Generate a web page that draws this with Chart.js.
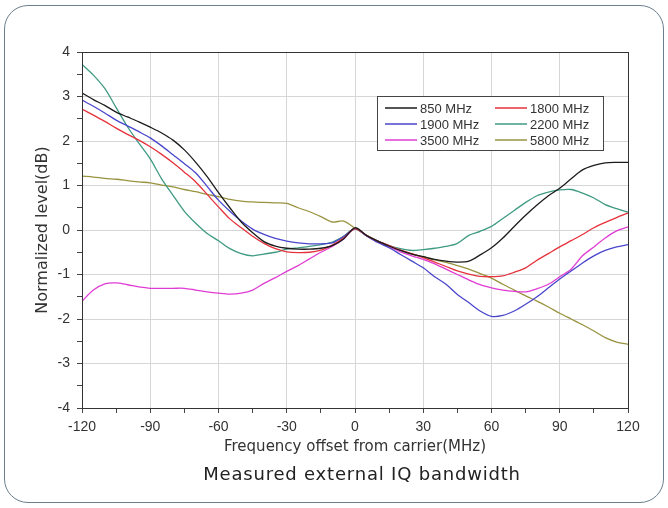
<!DOCTYPE html>
<html lang="en">
<head>
  <meta charset="UTF-8" />
  <title>Measured external IQ bandwidth</title>
  <style>
    * {
      margin: 0;
      padding: 0;
      box-sizing: border-box;
    }

    body {
      width: 668px;
      height: 508px;
      background: #fff;
      overflow: hidden;
      position: relative;
      font-family: 'DejaVu Sans', sans-serif;
    }

    .frame {
      position: absolute;
      left: 4px;
      top: 5px;
      width: 660px;
      height: 498px;
      border: 1px solid #6d7f8d;
      border-radius: 24px;
    }

    #chart {
      position: absolute;
      left: 0;
      top: 0;
    }

    .caption {
      position: absolute;
      left: 82px;
      width: 560px;
      top: 463px;
      text-align: center;
      font-size: 18px;
      line-height: 22px;
      letter-spacing: 0.8px;
      color: #222;
    }
  </style>
</head>
<body>
  <div class="frame"></div>
  <canvas id="chart" width="668" height="508"></canvas>
  <div class="caption">Measured external IQ bandwidth</div>

  <script src="https://cdn.jsdelivr.net/npm/chart.js"></script>
  <script>
    // frequency offset (MHz), 5 MHz steps
    const offsets = [-120, -115, -110, -105, -100, -95, -90, -85, -80, -75, -70, -65, -60, -55, -50, -45, -40, -35, -30, -25, -20, -15, -10, -5,
      0, 5, 10, 15, 20, 25, 30, 35, 40, 45, 50, 55, 60, 65, 70, 75, 80, 85, 90, 95, 100, 105, 110, 115, 120];

    const level850 = [3.08, 2.93, 2.80, 2.65, 2.54, 2.43, 2.31, 2.18, 2.02, 1.80, 1.52, 1.20, 0.84, 0.50, 0.18, -0.06, -0.26, -0.36, -0.41, -0.43, -0.43, -0.41, -0.35, -0.20,
      0.05, -0.12, -0.25, -0.36, -0.46, -0.54, -0.60, -0.66, -0.70, -0.72, -0.70, -0.56, -0.40, -0.18, 0.08, 0.33, 0.56, 0.77, 0.94, 1.15, 1.35, 1.45, 1.51, 1.52, 1.52];

    const level1800 = [2.72, 2.58, 2.44, 2.29, 2.15, 2.02, 1.87, 1.70, 1.51, 1.30, 1.08, 0.80, 0.52, 0.25, 0.05, -0.14, -0.30, -0.42, -0.49, -0.51, -0.50, -0.45, -0.34, -0.18,
      0.03, -0.12, -0.25, -0.35, -0.45, -0.53, -0.62, -0.72, -0.82, -0.92, -0.99, -1.04, -1.05, -1.03, -0.95, -0.85, -0.68, -0.53, -0.38, -0.24, -0.10, 0.05, 0.17, 0.28, 0.38];

    const level1900 = [2.92, 2.78, 2.63, 2.47, 2.34, 2.21, 2.07, 1.89, 1.69, 1.49, 1.28, 0.98, 0.67, 0.42, 0.20, 0.02, -0.10, -0.19, -0.25, -0.29, -0.31, -0.31, -0.29, -0.15,
      0.03, -0.13, -0.28, -0.40, -0.55, -0.70, -0.85, -1.05, -1.22, -1.45, -1.63, -1.82, -1.94, -1.92, -1.82, -1.67, -1.50, -1.30, -1.10, -0.92, -0.74, -0.58, -0.46, -0.38, -0.33];

    const level2200 = [3.72, 3.48, 3.18, 2.75, 2.32, 1.95, 1.60, 1.15, 0.78, 0.42, 0.15, -0.08, -0.24, -0.42, -0.53, -0.58, -0.54, -0.50, -0.43, -0.40, -0.37, -0.33, -0.27, -0.14,
      0.03, -0.12, -0.25, -0.35, -0.42, -0.46, -0.44, -0.41, -0.37, -0.30, -0.12, -0.03, 0.08, 0.26, 0.44, 0.62, 0.77, 0.85, 0.90, 0.91, 0.83, 0.72, 0.57, 0.48, 0.40];

    const level3500 = [-1.60, -1.35, -1.21, -1.19, -1.23, -1.28, -1.31, -1.31, -1.31, -1.31, -1.35, -1.39, -1.42, -1.44, -1.42, -1.35, -1.20, -1.07, -0.93, -0.80, -0.65, -0.50, -0.37, -0.20,
      0.03, -0.13, -0.27, -0.38, -0.49, -0.58, -0.66, -0.76, -0.88, -1.00, -1.12, -1.23, -1.30, -1.35, -1.38, -1.39, -1.32, -1.22, -1.05, -0.88, -0.58, -0.38, -0.18, -0.02, 0.07];

    const level5800 = [1.21, 1.19, 1.16, 1.14, 1.11, 1.08, 1.06, 1.01, 0.97, 0.91, 0.86, 0.80, 0.75, 0.69, 0.65, 0.63, 0.62, 0.61, 0.60, 0.50, 0.41, 0.30, 0.18, 0.20,
      0.04, -0.12, -0.25, -0.36, -0.46, -0.54, -0.60, -0.67, -0.73, -0.80, -0.88, -0.98, -1.08, -1.22, -1.35, -1.48, -1.60, -1.73, -1.87, -2.00, -2.13, -2.27, -2.42, -2.52, -2.57];

    const seriesLabels = ['850 MHz', '1800 MHz', '1900 MHz', '2200 MHz', '3500 MHz', '5800 MHz'];
    const seriesColors = ['#1c1c1c', '#e5323c', '#4a46cc', '#3f9a82', '#e03cd4', '#99933f'];
    const seriesData = [level850, level1800, level1900, level2200, level3500, level5800];

    const tickFont = { family: "'Liberation Sans', Arial, sans-serif", size: 14 };

    // box round the plot area
    const plotFrame = {
      id: 'plotFrame',
      afterDatasetsDraw(chart) {
        const { ctx, chartArea: a } = chart;
        ctx.save();
        ctx.strokeStyle = '#333';
        ctx.lineWidth = 1;
        ctx.strokeRect(a.left + 0.5, a.top + 0.5, a.right - a.left, a.bottom - a.top);
        ctx.restore();
      }
    };

    // legend box inside the plot, two columns
    const legendBox = {
      id: 'legendBox',
      afterDatasetsDraw(chart) {
        const { ctx } = chart;
        const x0 = 377, y0 = 96, w = 226, h = 54;
        ctx.save();
        ctx.fillStyle = '#fff';
        ctx.fillRect(x0, y0, w, h);
        ctx.strokeStyle = '#444';
        ctx.lineWidth = 1;
        ctx.strokeRect(x0 + 0.5, y0 + 0.5, w, h);
        ctx.font = "13px 'Liberation Sans', Arial, sans-serif";
        ctx.textBaseline = 'middle';
        chart.data.datasets.forEach((ds, i) => {
          const col = i % 2, row = Math.floor(i / 2);
          const lx = col === 0 ? 385 : 495;
          const y = y0 + 12 + row * 16;
          ctx.strokeStyle = ds.borderColor;
          ctx.lineWidth = 1.5;
          ctx.beginPath();
          ctx.moveTo(lx, y);
          ctx.lineTo(lx + 32, y);
          ctx.stroke();
          ctx.fillStyle = '#333';
          ctx.fillText(ds.label, lx + 35, y + 1);
        });
        ctx.restore();
      }
    };

    new Chart(document.getElementById('chart'), {
      type: 'line',
      data: {
        datasets: seriesLabels.map((label, i) => ({
          label,
          data: offsets.map((x, j) => ({ x, y: seriesData[i][j] })),
          borderColor: seriesColors[i],
          borderWidth: 1.3,
          pointRadius: 0,
          tension: 0.3,
          fill: false
        }))
      },
      options: {
        responsive: false,
        animation: false,
        layout: { padding: { top: 52, right: 40, bottom: 50, left: 0 } },
        plugins: {
          legend: { display: false },
          tooltip: { enabled: false }
        },
        scales: {
          x: {
            type: 'linear',
            min: -120,
            max: 120,
            ticks: {
              stepSize: 15,
              autoSkip: false,
              maxRotation: 0,
              padding: 6,
              color: '#333',
              font: tickFont,
              callback: v => (v % 30 === 0 ? v : '')
            },
            grid: {
              color: c => (c.tick && c.tick.value % 30 === 0 ? '#d6d6d6' : 'rgba(0,0,0,0)'),
              tickColor: '#444',
              tickLength: 5
            },
            border: { color: '#333', width: 1 },
            title: {
              display: true,
              text: 'Frequency offset from carrier(MHz)',
              color: '#333',
              font: { family: "'DejaVu Sans', sans-serif", size: 15 },
              padding: { top: 0, bottom: 2 }
            },
            afterFit: s => { s.height = 50; }
          },
          y: {
            min: -4,
            max: 4,
            ticks: {
              stepSize: 0.5,
              autoSkip: false,
              padding: 7,
              color: '#333',
              font: tickFont,
              callback: v => (Number.isInteger(v) ? v : '')
            },
            grid: {
              color: c => (c.tick && Number.isInteger(c.tick.value) ? '#d6d6d6' : 'rgba(0,0,0,0)'),
              tickColor: '#444',
              tickLength: 5
            },
            border: { color: '#333', width: 1 },
            title: {
              display: true,
              text: 'Normalized level(dB)',
              color: '#333',
              font: { family: "'DejaVu Sans', sans-serif", size: 16 },
              padding: { top: 33, bottom: 0 }
            },
            afterFit: s => { s.width = 82; }
          }
        }
      },
      plugins: [plotFrame, legendBox]
    });
  </script>
</body>
</html>
